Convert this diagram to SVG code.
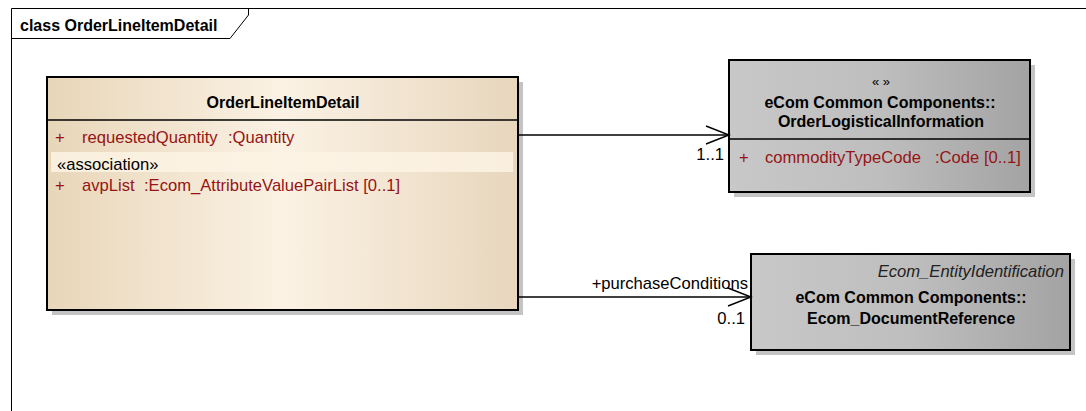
<svg xmlns="http://www.w3.org/2000/svg" width="1086" height="411" viewBox="0 0 1086 411">
<style>
text{font-family:"Liberation Sans",Arial,sans-serif;font-size:16.6px;}
.b{font-weight:bold;fill:#000;font-size:16px;}
.r{fill:#000;}
.a{fill:#961414;}
.i{font-style:italic;fill:#222;}
.box{stroke:#000;stroke-width:2;}
.sep{stroke:#000;stroke-width:1.3;}
.shadow{fill:#c4c4c4;}
.conn{stroke:#000;stroke-width:1.4;fill:none;}
</style>
<defs>
<linearGradient id="tan" x1="0" y1="0" x2="1" y2="0">
<stop offset="0" stop-color="#e8d6b9"/>
<stop offset="0.5" stop-color="#fbf2e4"/>
<stop offset="1" stop-color="#e8d6bd"/>
</linearGradient>
<linearGradient id="gray" x1="0" y1="0" x2="1" y2="0">
<stop offset="0" stop-color="#c8c8c8"/>
<stop offset="0.5" stop-color="#bebebe"/>
<stop offset="1" stop-color="#a3a3a3"/>
</linearGradient>
</defs>
<rect width="1086" height="411" fill="#fff"/>
<g id="frame">
<path d="M11.5,411 V8.5 H1086" fill="none" stroke="#000" stroke-width="1"/>
<path d="M11.5,38.5 H230 L248.5,15 V8.5" fill="none" stroke="#000" stroke-width="1"/>
<text x="20" y="31" class="b">class OrderLineItemDetail</text>
</g>
<g id="OrderLineItemDetail">
<rect x="52" y="82" width="471" height="233" class="shadow"/>
<rect x="47" y="77" width="471" height="233" fill="url(#tan)" class="box"/>
<line x1="47" y1="120" x2="518" y2="120" class="sep"/>
<rect x="51" y="152" width="462" height="20" fill="#fdf3e4" opacity="0.85"/>
<text x="283" y="108" text-anchor="middle" class="b">OrderLineItemDetail</text>
<text x="55" y="143" class="a">+</text>
<text x="82" y="143" class="a">requestedQuantity</text>
<text x="228" y="143" class="a">:Quantity</text>
<text x="57" y="170" class="r">«association»</text>
<text x="55" y="191" class="a">+</text>
<text x="82" y="191" class="a">avpList</text>
<text x="144" y="191" class="a">:Ecom_AttributeValuePairList [0..1]</text>
</g>
<g id="OrderLogisticalInformation">
<rect x="734" y="65" width="301" height="132" class="shadow"/>
<rect x="729" y="60" width="301" height="132" fill="url(#gray)" class="box"/>
<line x1="729" y1="139" x2="1030" y2="139" class="sep"/>
<text x="881" y="86" text-anchor="middle" class="r" style="font-size:13px">«  »</text>
<text x="880" y="108" text-anchor="middle" class="b">eCom Common Components::</text>
<text x="881" y="127" text-anchor="middle" class="b">OrderLogisticalInformation</text>
<text x="739" y="163" class="a">+</text>
<text x="765" y="163" class="a">commodityTypeCode</text>
<text x="935" y="163" class="a">:Code [0..1]</text>
</g>
<g id="Ecom_DocumentReference">
<rect x="756" y="259" width="319" height="96" class="shadow"/>
<rect x="751" y="254" width="319" height="96" fill="url(#gray)" class="box"/>
<text x="1064" y="277" text-anchor="end" class="i">Ecom_EntityIdentification</text>
<text x="911" y="303" text-anchor="middle" class="b">eCom Common Components::</text>
<text x="911" y="324" text-anchor="middle" class="b">Ecom_DocumentReference</text>
</g>
<g id="connectors">
<line x1="519" y1="135" x2="728" y2="135" class="conn"/>
<polyline points="706,126 729,135 706,144" class="conn"/>
<text x="724" y="160" text-anchor="end" class="r">1..1</text>
<line x1="519" y1="297" x2="750" y2="297" class="conn"/>
<polyline points="728,288 751,297 728,306" class="conn"/>
<text x="748" y="289" text-anchor="end" class="r">+purchaseConditions</text>
<text x="745" y="324" text-anchor="end" class="r">0..1</text>
</g>
</svg>
